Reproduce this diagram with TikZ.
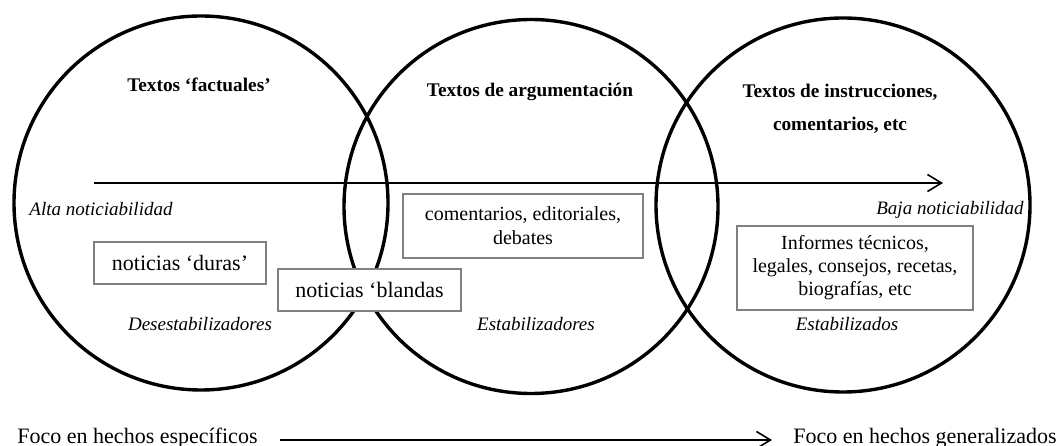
\documentclass[tikz,border=0pt]{standalone}
\usepackage{fontspec}
\setmainfont{Liberation Serif}
\usetikzlibrary{arrows.meta}
\begin{document}
\begin{tikzpicture}[x=1pt,y=-1pt,
  circ/.style={draw=black,line width=3.4pt,circle,minimum size=374pt,inner sep=0pt},
  title/.style={font=\fontsize{19.3}{23}\selectfont\bfseries,anchor=base,inner sep=0pt},
  lab/.style={font=\fontsize{19}{23}\selectfont\itshape,anchor=base,inner sep=0pt},
  tbox/.style={draw=gray,line width=2pt,fill=white,align=center,inner sep=0pt},
  foco/.style={font=\fontsize{22}{26}\selectfont,anchor=base,inner sep=0pt},
  arr/.style={line width=1.6pt,-{Straight Barb[length=14pt,width=17pt,line width=1.6pt]}}
]
\useasboundingbox (0,0) rectangle (1058,446);
% circles
\node[circ] (c1) at (201,203) {};
\node[circ] (c2) at (531,206.5) {};
\node[circ] (c3) at (843,205) {};
% top arrow
\coordinate (h1) at (94,183);
\coordinate (h2) at (943,183);
\draw[arr] (h1) -- (h2);
% titles
\node[title] (t1) at (199,92) {Textos ‘factuales’};
\node[title] (t2) at (530,97) {Textos de argumentación};
\node[title] (t3a) at (840,98) {Textos de instrucciones,};
\node[title] (t3b) at (840,131) {comentarios, etc};
% italic labels
\node[lab] (alta) at (101,216) {Alta noticiabilidad};
\node[lab] (baja) at (950,215) {Baja noticiabilidad};
\node[lab] (des) at (200,331) {Desestabilizadores};
\node[lab] (est1) at (536,331) {Estabilizadores};
\node[lab] (est2) at (847,331) {Estabilizados};
% boxes
\node[tbox,minimum width=172pt,minimum height=42pt,font=\fontsize{22}{25}\selectfont] (dur) at (180,263) {noticias ‘duras’};
\node[tbox,minimum width=183pt,minimum height=42pt,font=\fontsize{22}{25}\selectfont] (bla) at (369.5,290) {noticias ‘blandas};
\node[tbox,minimum width=240pt,minimum height=64pt,font=\fontsize{20}{24}\selectfont] (com) at (523,226) {comentarios, editoriales,\\debates};
\node[tbox,minimum width=236pt,minimum height=84pt,font=\fontsize{20}{23}\selectfont] (inf) at (855,268) {Informes técnicos,\\legales, consejos, recetas,\\biografías, etc};
% bottom
\node[foco] (f1) at (137.5,443) {Foco en hechos específicos};
\node[foco] (f2) at (925,443) {Foco en hechos generalizados};
\coordinate (b1) at (280,440);
\coordinate (b2) at (772,440);
\draw[arr] (b1) -- (b2);
\end{tikzpicture}
\end{document}
